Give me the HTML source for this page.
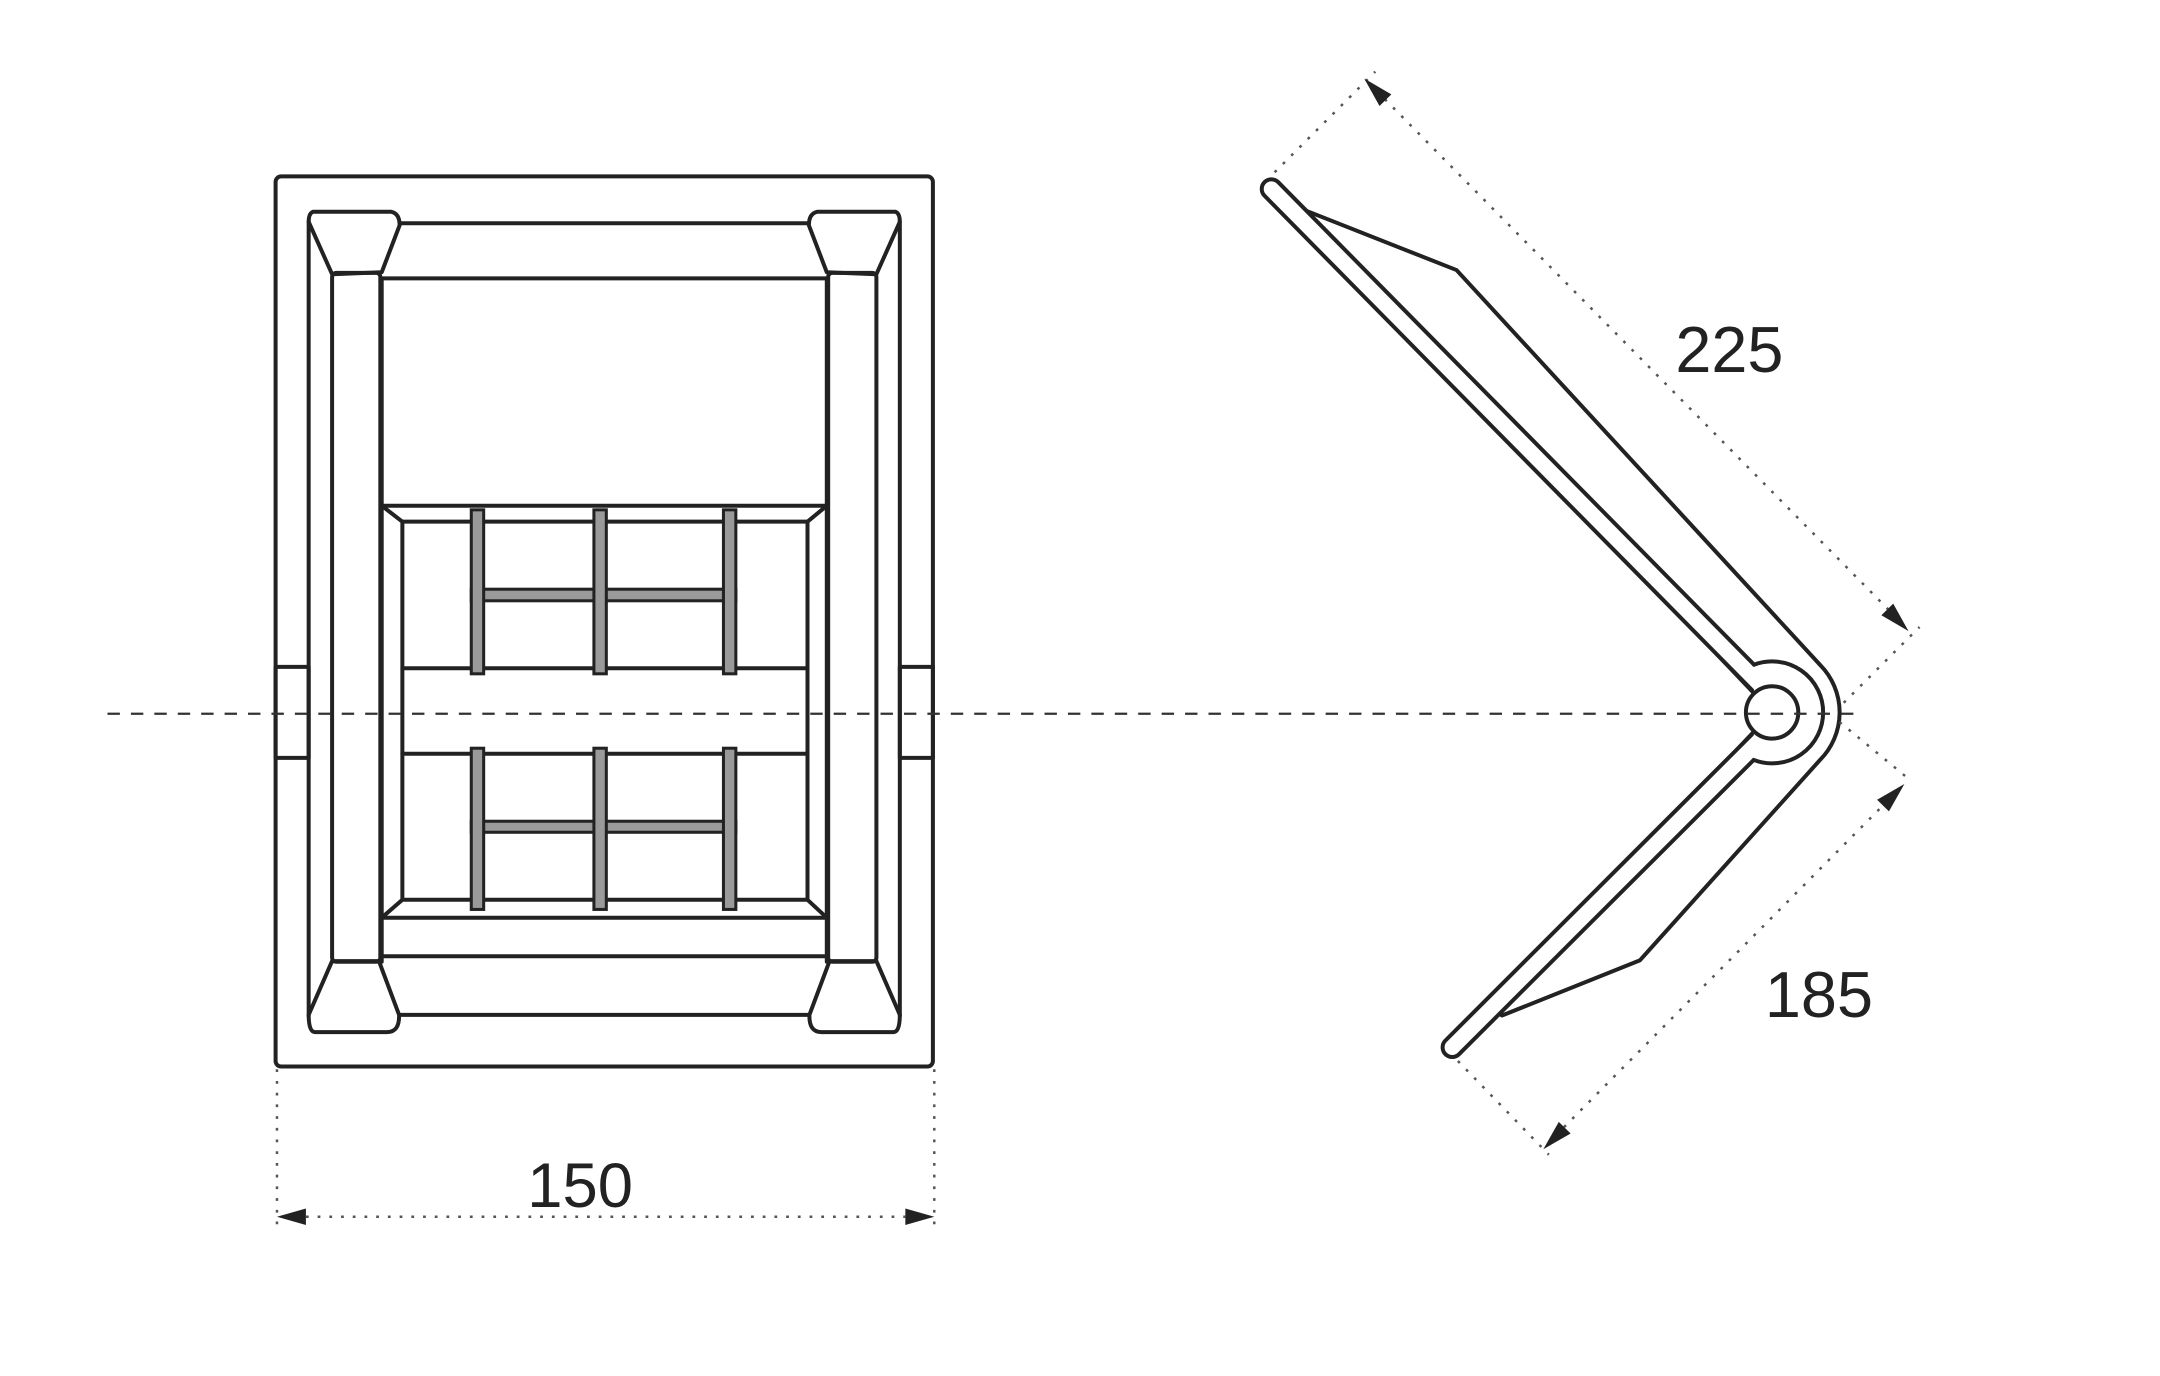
<!DOCTYPE html>
<html><head><meta charset="utf-8"><style>
html,body{margin:0;padding:0;background:#fff;}
svg{display:block;}
text{font-family:"Liberation Sans",Arial,sans-serif;fill:#222;}
</style></head><body>
<svg width="2160" height="1376" viewBox="0 0 1567.5 998.6" preserveAspectRatio="none" xmlns="http://www.w3.org/2000/svg">
<rect width="1567.5" height="998.6" fill="#fff"/>
<g fill="none" stroke="#222" stroke-width="2.9" stroke-linejoin="round" stroke-linecap="round">
  <rect x="200" y="128" width="477" height="646" rx="4"/>
  <rect x="200" y="484" width="24" height="66"/>
  <rect x="653" y="484" width="24" height="66"/>
  <line x1="224" y1="161" x2="224" y2="737"/>
  <line x1="653" y1="161" x2="653" y2="737"/>
  <path d="M227,153.7 L284,153.7 Q290,155 290,163.5 L277,197.6 L241,199 L224,161 Q224,155 227,153.7 Z"/>
  <path d="M650,153.7 L593,153.7 Q587,155 587,163.5 L600,197.6 L636,199 L653,161 Q653,155 650,153.7 Z"/>
  <path d="M241,697.5 L275,697.5 L289.6,736.5 Q290,749 281,749 L228.6,749 Q224,749 224,736.5 Z"/>
  <path d="M636,697.5 L602,697.5 L587.4,736.5 Q587,749 596,749 L648.4,749 Q653,749 653,736.5 Z"/>
  <rect x="241" y="198" width="35" height="500" rx="3"/>
  <rect x="601" y="198" width="35" height="500" rx="3"/>
  <line x1="290" y1="162" x2="587" y2="162"/>
  <line x1="290" y1="736.5" x2="587" y2="736.5"/>
  <line x1="277" y1="202" x2="600" y2="202"/>
  <line x1="277" y1="202" x2="277" y2="698"/>
  <line x1="600" y1="202" x2="600" y2="698"/>
  <line x1="277" y1="367" x2="600" y2="367"/>
  <line x1="277" y1="666" x2="600" y2="666"/>
  <line x1="277" y1="694" x2="600" y2="694"/>
  <path d="M277,367 L292,378.6 L586,378.6 L600,367"/>
  <path d="M277,666 L292,653 L586,653 L600,666"/>
  <line x1="292" y1="378.6" x2="292" y2="653"/>
  <line x1="586" y1="378.6" x2="586" y2="653"/>
  <line x1="292" y1="485" x2="586" y2="485"/>
  <line x1="292" y1="547" x2="586" y2="547"/>
</g>
<g fill="#9a9a9a" stroke="#222" stroke-width="2.2">
  <rect x="342" y="427.6" width="192" height="8.4"/>
  <rect x="342" y="596" width="192" height="8"/>
  <rect x="342" y="370" width="9" height="119"/>
  <rect x="431" y="370" width="9" height="119"/>
  <rect x="525" y="370" width="9" height="119"/>
  <rect x="342" y="543" width="9" height="117"/>
  <rect x="431" y="543" width="9" height="117"/>
  <rect x="525" y="543" width="9" height="117"/>
</g>

<g stroke="#222" stroke-width="2.9" stroke-linejoin="round" stroke-linecap="round">
  <path fill="#fff" d="M945,158 L948,153 L1057,196 L1320.9,482.6 A49 49 0 0 1 1320.6,551.7 L1190,697 L1090,737 L1083,732 L1286,517 Z"/>
  <g transform="translate(1286,517) rotate(225.4)">
    <path fill="#fff" d="M18,1 L525.6,1 A7 7 0 0 1 525.6,15 L33.8,15"/>
  </g>
  <g transform="translate(1286,517) rotate(135.04) scale(1,-1)">
    <path fill="#fff" d="M18,1 L336,1 A7 7 0 0 1 336,15 L33.8,15"/>
  </g>
  <path fill="#fff" stroke="none" d="M1272.9,482.4 A37 37 0 1 1 1272.7,551.5 Z"/>
  <path fill="none" d="M1272.9,482.4 A37 37 0 1 1 1272.7,551.5"/>
  <circle cx="1286" cy="517" r="19" fill="#fff"/>
</g>

<line x1="78" y1="518" x2="1345" y2="518" stroke="#333" stroke-width="1.6" stroke-dasharray="9 8"/>

<g stroke="#555" stroke-width="1.8" stroke-dasharray="2 6.5" fill="none">
  <line x1="201" y1="776" x2="201" y2="892"/>
  <line x1="678" y1="776" x2="678" y2="892"/>
  <line x1="222" y1="883" x2="657" y2="883"/>
  <line x1="925" y1="125" x2="998" y2="52"/>
  <line x1="1338" y1="510" x2="1393" y2="455"/>
  <line x1="1005" y1="72" x2="1370" y2="442"/>
  <line x1="1058" y1="770" x2="1124" y2="838"/>
  <line x1="1335" y1="524" x2="1386" y2="566"/>
  <line x1="1135" y1="818" x2="1367" y2="584"/>
</g>
<g fill="#222" stroke="none">
  <polygon points="201,883 222,877 222,889"/>
  <polygon points="678,883 657,877 657,889"/>
  <polygon points="990,57 1001.1,76.9 1009.7,68.5"/>
  <polygon points="1385,458 1365.3,446.5 1373.9,438.1"/>
  <polygon points="1382,569 1370.8,588.8 1362.2,580.4"/>
  <polygon points="1120,834 1139.8,822.6 1131.2,814.2"/>
</g>
<text x="421" y="876" font-size="46" text-anchor="middle">150</text>
<text x="1255" y="270" font-size="47" text-anchor="middle">225</text>
<text x="1320" y="738" font-size="47" text-anchor="middle">185</text>
</svg>
</body></html>
